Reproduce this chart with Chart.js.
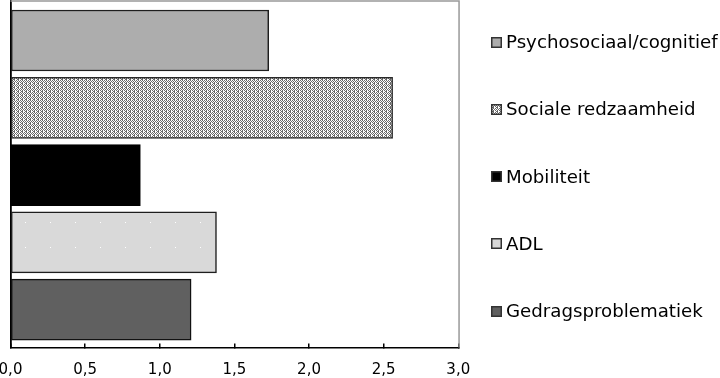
<!DOCTYPE html>
<html><head><meta charset="utf-8">
<script src="https://cdn.jsdelivr.net/npm/chart.js@4.4.1/dist/chart.umd.min.js"></script>
<style>
html,body{margin:0;padding:0;background:#fff;}
#wrap{position:relative;width:720px;height:378px;overflow:hidden;}
#c{position:absolute;left:0;top:0;}
.li{position:absolute;left:491px;display:flex;align-items:center;font-family:"DejaVu Sans",Verdana,sans-serif;font-size:18.2px;color:#000;white-space:nowrap;transform:translateY(-50%);line-height:20px;}
.li canvas{margin-right:4px;display:block;}
</style></head><body>
<div id="wrap"><canvas id="c" width="720" height="378"></canvas><div id="legend"></div></div>
<script>
// ---- data ----
const categories = ['Psychosociaal/cognitief', 'Sociale redzaamheid', 'Mobiliteit', 'ADL', 'Gedragsproblematiek'];
const values = [1.73, 2.56, 0.87, 1.38, 1.21];
const xTickValues = [0, 0.5, 1, 1.5, 2, 2.5, 3];
const xTickLabels = ['0,0', '0,5', '1,0', '1,5', '2,0', '2,5', '3,0'];

// ---- styles ----
function makeFills(ctx) {
  // dithered pattern
  const p1 = document.createElement('canvas'); p1.width = 4; p1.height = 4;
  const c1 = p1.getContext('2d');
  c1.fillStyle = '#ffffff'; c1.fillRect(0, 0, 4, 4);
  c1.fillStyle = '#6a6a6a';
  const rows = ['1010', '0101', '1010', '0110'];
  rows.forEach((r, y) => { for (let x = 0; x < 4; x++) if (r[x] === '1') c1.fillRect(x, y, 1, 1); });
  // light gray with sparse white dots
  const p2 = document.createElement('canvas'); p2.width = 25; p2.height = 25;
  const c2 = p2.getContext('2d');
  c2.fillStyle = '#d9d9d9'; c2.fillRect(0, 0, 25, 25);
  c2.fillStyle = '#ffffff'; c2.fillRect(0, 22, 1, 1);
  return [
    '#adadad',
    ctx.createPattern(p1, 'repeat'),
    '#000000',
    ctx.createPattern(p2, 'repeat'),
    '#606060'
  ];
}
const borderColors = ['#1e1e1e', '#2a2a2a', '#000000', '#1e1e1e', '#111111'];

const canvas = document.getElementById('c');
const ctx = canvas.getContext('2d');
const fills = makeFills(ctx);

const datasets = categories.map((name, i) => ({
  label: name,
  data: [{ x: values[i], y: i }],
  backgroundColor: fills[i],
  borderColor: borderColors[i],
  borderWidth: 1.5,
  borderSkipped: false
}));

const frame = {
  id: 'frame',
  afterDraw(chart) {
    const { ctx, chartArea: a } = chart;
    ctx.save();
    ctx.strokeStyle = '#999999';
    ctx.lineWidth = 1.5;
    ctx.beginPath();
    ctx.moveTo(a.left, a.top);
    ctx.lineTo(a.right + 0.75, a.top);
    ctx.lineTo(a.right + 0.75, a.bottom);
    ctx.stroke();
    ctx.restore();
  }
};

const chart = new Chart(canvas, {
  type: 'bar',
  data: { datasets },
  plugins: [frame],
  options: {
    indexAxis: 'y',
    responsive: false,
    animation: false,
    layout: { padding: { left: 10.5, right: 261.7, top: 1, bottom: 0 } },
    plugins: { legend: { display: false }, tooltip: { enabled: false } },
    datasets: { bar: { barThickness: 61, grouped: false } },
    scales: {
      y: {
        type: 'linear', min: -0.587, max: 4.562, reverse: true, offset: false,
        ticks: { display: false },
        grid: { display: false, drawTicks: false },
        border: { display: true, color: '#000', width: 1.8 }
      },
      x: {
        type: 'linear', min: 0, max: 3,
        afterBuildTicks: s => { s.ticks = xTickValues.map(v => ({ value: v })); },
        afterFit: s => { s.height = 30.5; s.paddingLeft = 0; s.paddingRight = 0; },
        ticks: {
          callback: (v, i) => xTickLabels[i],
          font: { family: 'DejaVu Sans', size: 15 },
          color: '#000', padding: 18, maxRotation: 0, autoSkip: false
        },
        grid: { drawOnChartArea: false, drawTicks: true, tickLength: -4, color: '#000', lineWidth: 1.5 },
        border: { color: '#000', width: 1.5 }
      }
    }
  }
});

// ---- legend (HTML), aligned with the bars via the y scale ----
const legend = document.getElementById('legend');
categories.forEach((name, i) => {
  const item = document.createElement('div');
  item.className = 'li';
  item.style.top = (chart.scales.y.getPixelForValue(i) + 1.5) + 'px';
  const sw = document.createElement('canvas');
  sw.width = 11; sw.height = 11;
  const sctx = sw.getContext('2d');
  const sf = makeFills(sctx);
  sctx.fillStyle = sf[i]; sctx.fillRect(0, 0, 11, 11);
  sctx.strokeStyle = '#333'; sctx.lineWidth = 1.5;
  sctx.strokeRect(0.75, 0.75, 9.5, 9.5);
  item.appendChild(sw);
  const t = document.createElement('span');
  t.textContent = name;
  item.appendChild(t);
  legend.appendChild(item);
});
</script>
</body></html>
